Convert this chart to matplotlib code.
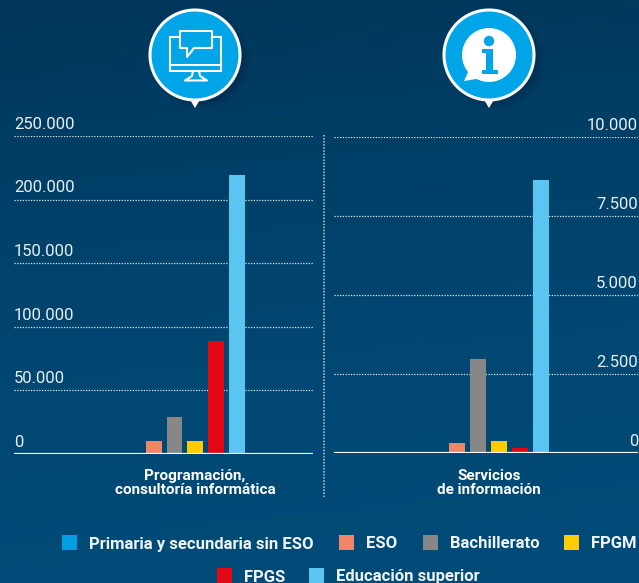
import numpy as np
import matplotlib
matplotlib.use("Agg")
import matplotlib.pyplot as plt
from matplotlib.patches import Circle, Polygon, Rectangle

# ---- data ----
categories = ["Primaria y secundaria sin ESO", "ESO", "Bachillerato", "FPGM", "FPGS", "Educación superior"]
colors = ["#009fe3", "#f48466", "#878787", "#ffcc00", "#e30613", "#5bc5f2"]
prog_values = [0, 10000, 29000, 10000, 89000, 219000]
info_values = [0, 320, 2975, 380, 150, 8640]
prog_ticks = [0, 50000, 100000, 150000, 200000, 250000]
info_ticks = [0, 2500, 5000, 7500, 10000]
prog_tick_labels = ["0", "50.000", "100.000", "150.000", "200.000", "250.000"]
info_tick_labels = ["0", "2.500", "5.000", "7.500", "10.000"]
prog_title = "Programación,\nconsultoría informática"
info_title = "Servicios\nde información"

W, H = 639, 583
plt.rcParams["font.family"] = ["Roboto", "DejaVu Sans"]

fig = plt.figure(figsize=(W / 100, H / 100), dpi=100)


def px_axes(x0, y_top, x1, y_bottom):
    return fig.add_axes([x0 / W, 1 - y_bottom / H, (x1 - x0) / W, (y_bottom - y_top) / H])


# background + decorations in pixel coordinates
bg = fig.add_axes([0, 0, 1, 1])
bg.set_xlim(0, W)
bg.set_ylim(H, 0)
bg.axis("off")
yy, xx = np.mgrid[0:1:120j, 0:1:120j]
grad = np.clip(0.95 * yy + 0.1 * xx, 0, 1)
bg.imshow(grad, extent=[0, W, H, 0], aspect="auto", zorder=0,
          cmap=matplotlib.colors.LinearSegmentedColormap.from_list("bg", ["#00365a", "#004068", "#004873", "#004b78"]))


def badge(cx):
    # soft shadow
    for r, a in [(50, 0.04), (48, 0.06), (46, 0.08), (44, 0.10)]:
        bg.add_patch(Circle((cx + 6, 60), r, fc="#001c33", ec="none", alpha=a, zorder=1))
    bg.add_patch(Polygon([(cx - 6, 98), (cx + 6, 98), (cx, 108)], fc="white", ec="none", zorder=2))
    bg.add_patch(Circle((cx, 55), 45, fc="#00a5e8", ec="white", lw=2.2, zorder=3))


badge(195)
badge(489)

# monitor icon
LW = 1.5
bg.add_patch(Rectangle((170, 37), 51, 34, fc="none", ec="white", lw=LW, zorder=4))
bg.plot([170, 221], [65, 65], color="white", lw=LW, zorder=4)
bg.plot([193, 192, 185, 207, 200, 199], [71, 76, 80.5, 80.5, 76, 71], color="white", lw=LW, zorder=4)
bg.add_patch(Polygon([(180, 31), (212, 31), (212, 48), (194, 48), (187, 57), (187, 48), (180, 48)],
                     closed=True, fc="#00a5e8", ec="white", lw=LW, joinstyle="round", zorder=5))

# info icon
bg.add_patch(Circle((489, 55), 27, fc="white", ec="none", zorder=4))
bg.add_patch(Polygon([(470, 68), (464, 81), (482, 78)], fc="white", ec="none", zorder=4))
bg.add_patch(Circle((489, 41), 5.2, fc="#00a5e8", ec="none", zorder=5))
bg.add_patch(Polygon([(482, 49), (493, 49), (493, 70), (498, 70), (498, 74), (482, 74), (482, 70),
                      (486, 70), (486, 53), (482, 53)], fc="#00a5e8", ec="none", zorder=5))

# dotted separator between the panels
bg.plot([324, 324], [135, 497], color="#b9cfdc", lw=1.1, ls=(0, (1, 1)), zorder=2)


def panel(box, xlim, ylim, values, ticks, labels, title, title_x, label_x, ha):
    ax = px_axes(*box)
    ax.patch.set_alpha(0)
    ax.set_xlim(*xlim)
    ax.set_ylim(*ylim)
    ax.bar(range(len(values)), values, width=0.77, color=colors, zorder=3)
    ax.set_axis_off()
    for t, lab in zip(ticks, labels):
        if t == 0:
            ax.axhline(t, color="white", lw=1.6, zorder=4)
        else:
            ax.axhline(t, color="#dce8ee", lw=0.9, ls=(0, (1, 1.2)), zorder=2)
        ax.annotate(lab, (label_x, t), xycoords=("axes fraction", "data"), xytext=(0, 3),
                    textcoords="offset points", ha=ha, va="bottom", color="#e8eff3", fontsize=12)
    bg.text(title_x, 483, title, ha="center", va="center", color="white", fontsize=11,
            fontweight="bold", linespacing=1.0, zorder=5)
    return ax


# x limits put the bars at their pixel spots: index i -> first + step * i
panel((14, 136, 313, 454), ((14 - 133) / 20.75, (313 - 133) / 20.75), (0, 250000),
      prog_values, prog_ticks, prog_tick_labels, prog_title, 195, 0, "left")
panel((334, 137, 638, 453), ((334 - 436) / 21, (638 - 436) / 21), (0, 10000),
      info_values, info_ticks, info_tick_labels, info_title, 489, 1, "right")

# legend
legend_pos = [(62, 535), (339, 535), (423, 535), (564, 535), (217, 568), (309, 568)]
for (x, y), name, c in zip(legend_pos, categories, colors):
    bg.add_patch(Rectangle((x, y), 15, 15, fc=c, ec="none", zorder=4))
    bg.text(x + 27, y + 7.5, name, ha="left", va="center_baseline", color="#eef4f7", fontsize=12,
            fontweight="bold", zorder=5)

fig.savefig("out.png", dpi=100)
